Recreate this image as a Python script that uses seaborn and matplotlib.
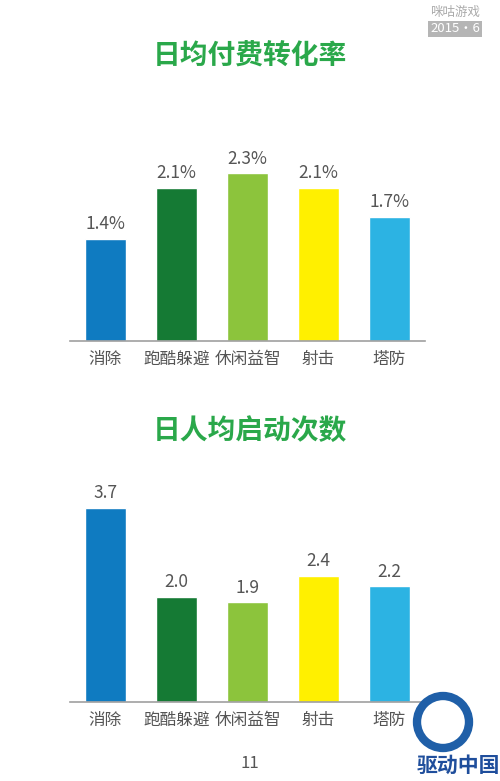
import matplotlib
matplotlib.use("Agg")
import matplotlib.pyplot as plt
import seaborn as sns
import pandas as pd
from matplotlib.patches import Ellipse

categories = ["消除", "跑酷躲避", "休闲益智", "射击", "塔防"]
pay_rate = [1.4, 2.1, 2.3, 2.1, 1.7]
launches = [3.7, 2.0, 1.9, 2.4, 2.2]
bar_colors = ["#0f7bc1", "#157a34", "#8cc43c", "#fff000", "#2cb3e3"]

title_top = "日均付费转化率"
title_bottom = "日人均启动次数"
page_no = "11"

sns.set_style("white")
plt.rcParams['font.family'] = ['Noto Sans CJK SC', 'DejaVu Sans']

fig = plt.figure(figsize=(5, 7.81), dpi=100)
ax1 = fig.add_axes([0.14, 0.5634, 0.71, 0.2804])
ax2 = fig.add_axes([0.14, 0.1012, 0.71, 0.2823])

df1 = pd.DataFrame({"cat": categories, "val": pay_rate})
df2 = pd.DataFrame({"cat": categories, "val": launches})

palette = dict(zip(categories, bar_colors))

for ax, df, ymax, fmt in [(ax1, df1, 3.0, "{:.1f}%"), (ax2, df2, 4.2, "{:.1f}")]:
    sns.barplot(data=df, x="cat", y="val", hue="cat", palette=palette,
                width=0.58, legend=False, ax=ax, saturation=1)
    ax.set_xlim(-0.5, 4.5)
    ax.set_ylim(0, ymax)
    for c in ax.containers:
        ax.bar_label(c, labels=[fmt.format(v) for v in c.datavalues],
                     padding=4, fontsize=12.5, color="#555555")
    ax.set_xlabel("")
    ax.set_ylabel("")
    ax.set_yticks([])
    ax.tick_params(axis="x", length=0, labelsize=12, labelcolor="#555555", pad=7)
    for s in ["top", "right", "left"]:
        ax.spines[s].set_visible(False)
    ax.spines["bottom"].set_color("#a0a0a0")
    ax.spines["bottom"].set_linewidth(1.2)

fig.text(0.5, 1 - 57 / 781, title_top, ha="center", va="center",
         fontsize=20, color="#2aa84a", fontweight="bold")
fig.text(0.5, 1 - 431 / 781, title_bottom, ha="center", va="center",
         fontsize=20, color="#2aa84a", fontweight="bold")
fig.text(0.5, 1 - 763 / 781, page_no, ha="center", va="center",
         fontsize=12, color="#555555")

# watermark top right
fig.text(455 / 500, 1 - 12 / 781, "咪咕游戏", ha="center", va="center",
         fontsize=9, color="#aaaaaa")
fig.text(455 / 500, 1 - 29 / 781, "2015·6", ha="center", va="center",
         fontsize=9.5, color="white",
         bbox=dict(boxstyle="square,pad=0.15", fc="#b5b5b5", ec="none"))

# watermark bottom right
fig.patches.append(Ellipse((443 / 500, 1 - 722 / 781), 52 / 500, 52 / 781,
                           transform=fig.transFigure, fill=False,
                           ec="#1f5fa8", lw=6))
fig.text(458 / 500, 1 - 765 / 781, "驱动中国", ha="center", va="center",
         fontsize=15, color="#1f4e9c", fontweight="bold")

fig.savefig("out.png", dpi=100)
